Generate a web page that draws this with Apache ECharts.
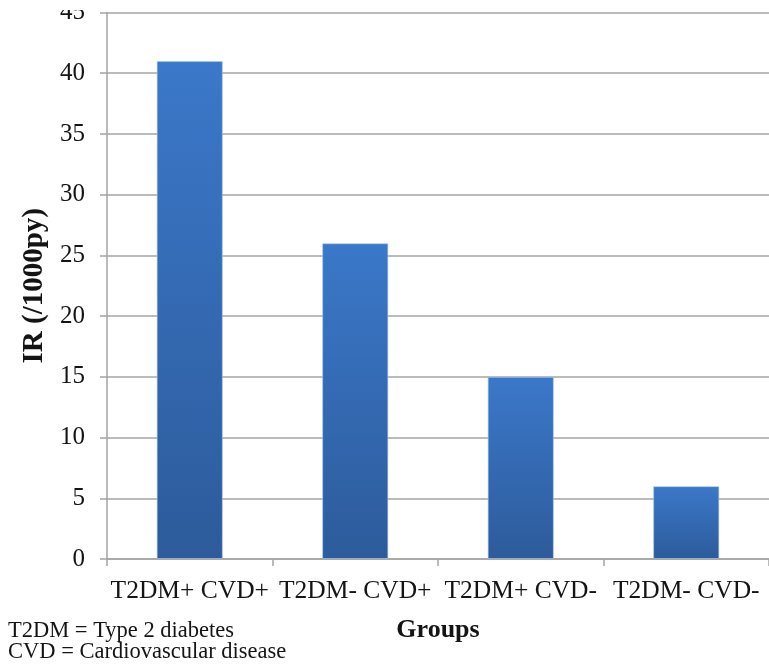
<!DOCTYPE html>
<html>
<head>
<meta charset="utf-8">
<script src="https://cdn.jsdelivr.net/npm/echarts@6/dist/echarts.min.js"></script>
<style>
  html, body { margin: 0; padding: 0; background: #ffffff; }
  #chart { width: 769px; height: 666px; }
</style>
</head>
<body>
<div id="chart"></div>
<script>
// Incidence rate per 1000 person-years by group
const groups = ['T2DM+ CVD+', 'T2DM- CVD+', 'T2DM+ CVD-', 'T2DM- CVD-'];
const incidenceRate = [41, 26, 15, 6];
const footnotes = ['T2DM = Type 2 diabetes', 'CVD = Cardiovascular disease'];

const serif = '"Liberation Serif", "Times New Roman", serif';
const gridColor = '#a4a4a4';
const textColor = '#141414';

const chart = echarts.init(document.getElementById('chart'), null, { renderer: 'canvas' });

chart.setOption({
  backgroundColor: '#ffffff',
  animation: false,
  grid: { left: 107, top: 11, width: 668, height: 548, containLabel: false },
  xAxis: {
    type: 'category',
    data: groups,
    name: 'Groups',
    nameLocation: 'middle',
    nameGap: 58,
    nameTextStyle: { fontFamily: serif, fontSize: 26, fontWeight: 'bold', color: textColor },
    axisLine: { lineStyle: { color: gridColor, width: 1.5 } },
    axisTick: { show: true, alignWithLabel: false, length: 7, lineStyle: { color: gridColor, width: 1.5 } },
    axisLabel: { fontFamily: serif, fontSize: 25.5, color: textColor, margin: 19, interval: 0 }
  },
  yAxis: {
    type: 'value',
    min: 0,
    max: 45,
    interval: 5,
    name: 'IR (/1000py)',
    nameLocation: 'middle',
    nameGap: 56,
    nameTextStyle: { fontFamily: serif, fontSize: 29, fontWeight: 'bold', color: textColor },
    axisLine: { show: true, lineStyle: { color: gridColor, width: 1.5 } },
    axisTick: { show: true, length: 7, lineStyle: { color: gridColor, width: 1.5 } },
    axisLabel: { fontFamily: serif, fontSize: 25, color: textColor, margin: 22 },
    splitLine: { show: true, lineStyle: { color: gridColor, width: 1.5 } }
  },
  series: [{
    type: 'bar',
    data: incidenceRate,
    barWidth: '40%',
    itemStyle: {
      color: new echarts.graphic.LinearGradient(0, 0, 0, 1, [
        { offset: 0, color: '#3b78c9' },
        { offset: 1, color: '#2d5b9b' }
      ]),
      borderColor: 'rgba(170, 205, 240, 0.6)',
      borderWidth: 1
    }
  }],
  graphic: [
    // the figure is trimmed just above the top gridline, cutting the top tick label
    {
      type: 'rect',
      left: 0,
      top: 0,
      z: 100,
      shape: { width: 100, height: 10 },
      style: { fill: '#ffffff' }
    }
  ].concat(footnotes.map((t, i) => ({
    type: 'text',
    left: 8,
    top: 620 + i * 21,
    style: { text: t, font: '22.5px ' + serif, fill: textColor }
  })))
});
</script>
</body>
</html>
